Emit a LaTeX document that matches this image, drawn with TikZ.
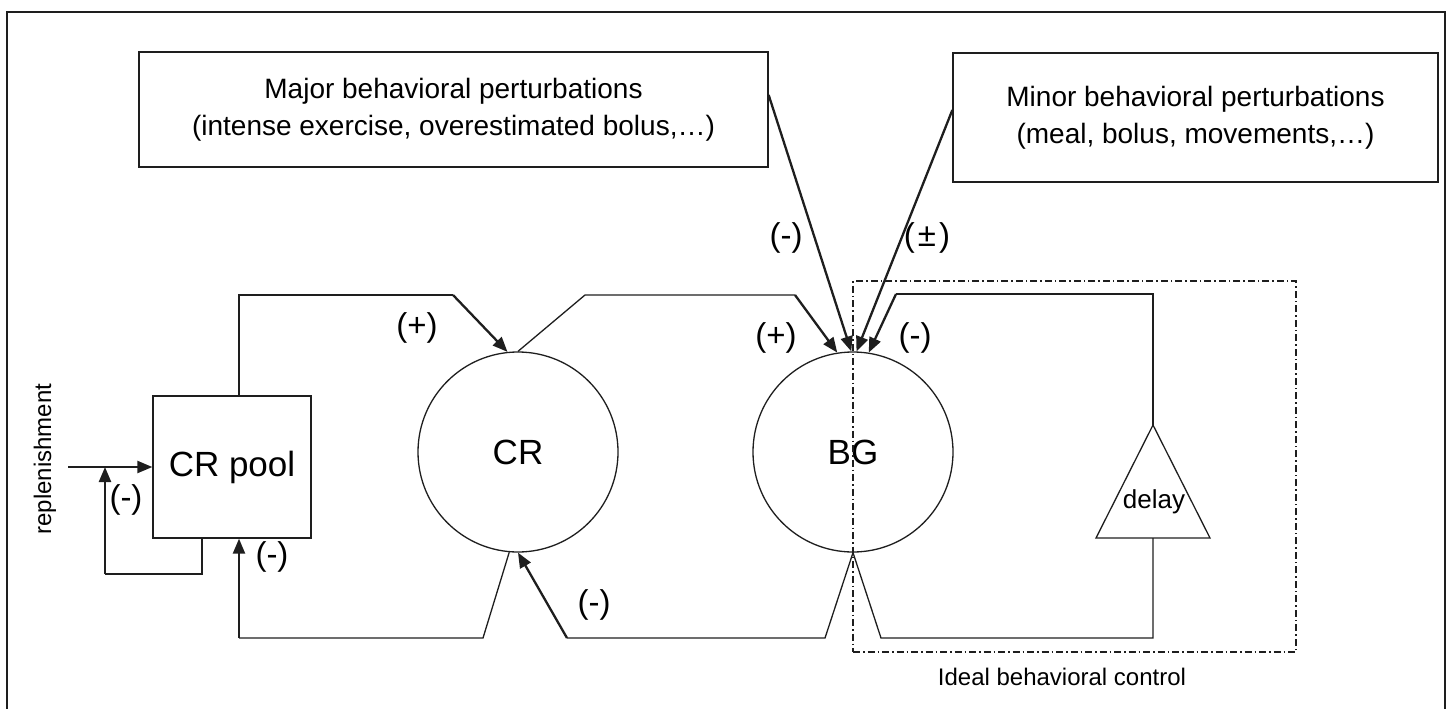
\documentclass[tikz,border=0pt]{standalone}
\usepackage{fontspec}
\setmainfont{Liberation Sans}
\usetikzlibrary{arrows.meta,positioning}
\definecolor{ink}{HTML}{1E1E1E}

\tikzset{
  line/.style={draw=ink, line width=1.3pt},
  arr/.style={draw=ink, line width=2.3pt, -{Triangle[length=15pt,width=12pt]}},
  pbox/.style={draw=ink, line width=1.3pt, align=center, inner sep=0pt, font=\fontsize{28}{37}\selectfont},
  blob/.style={circle, draw=ink, line width=1.3pt, minimum size=200pt, inner sep=0pt, font=\fontsize{35}{40}\selectfont},
  sign/.style={inner sep=0pt, font=\fontsize{33}{36}\selectfont},
  small/.style={inner sep=0pt, font=\fontsize{24}{28}\selectfont},
  ctrlbox/.style={draw=ink, line width=1.2pt, dash pattern=on 7pt off 3pt on 1.5pt off 3pt},
}

\begin{document}
\begin{tikzpicture}[x=1pt,y=-1pt]
  \useasboundingbox (0,0) rectangle (1448,709);
  \draw[line] (7,12) rectangle (1445,712);

  % perturbations
  \node[pbox, minimum width=629pt, minimum height=115pt] (major) at (453.5,109.5)
    {Major behavioral perturbations\\(intense exercise, overestimated bolus,…)};
  \node[pbox, minimum width=485pt, minimum height=129pt] (minor) at (1195.5,117.5)
    {Minor behavioral perturbations\\(meal, bolus, movements,…)};

  % compartments
  \node[pbox, font=\fontsize{35}{40}\selectfont, minimum width=158pt, minimum height=142pt] (pool) at (232,467) {CR pool};
  \node[blob] (cr) at (518,452) {CR};
  \node[blob] (bg) at (853,452) {BG};

  % ideal behavioral control
  \node[ctrlbox, minimum width=443pt, minimum height=371pt] (ideal) at (1074.5,466.5) {};
  \node[small] (idealtxt) at (1062,677) {Ideal behavioral control};
  \coordinate (dtop) at (1153,425);
  \coordinate (dbot) at (1153,538);
  \draw[line] (dtop) -- (1210,538) -- (1096,538) -- cycle;
  \node[inner sep=0pt, font=\fontsize{26}{30}\selectfont] (delay) at (1154,502) {delay};

  % replenishment
  \node[small, rotate=90] (reptxt) at (45,459) {replenishment};
  \coordinate (rep) at (68,467);
  \coordinate (repj) at (105,467);
  \draw[arr] (rep) -- (pool.west);
  \draw[line] ([xshift=-30pt]pool.south) |- (105,574) coordinate (fb1);
  \draw[arr] (fb1) -- (repj);

  % CR pool -> CR -> BG
  \draw[line] ([xshift=7pt]pool.north) |- (453,295) coordinate (k1);
  \draw[arr] (k1) -- (cr.96);
  \draw[line] (cr.north) -- (585,295) -- (795,295) coordinate (k2);
  \draw[arr] (k2) -- (bg.99);

  % feedbacks
  \draw[line] (cr.265) -- (483,638) -| (239,638) coordinate (k3);
  \draw[arr] (k3) -- ([xshift=7pt]pool.south);
  \draw[line] (bg.south) -- (825,638) -- (567,638) coordinate (k4);
  \draw[arr] (k4) -- (cr.south);
  \draw[line] (bg.south) -- (881,638) -| (dbot);
  \draw[line] (dtop) |- (896,294) coordinate (k5);
  \draw[arr] (k5) -- (bg.81);

  % behaviour
  \draw[arr] ([yshift=14.5pt]major.east) -- (bg.91);
  \draw[arr] ([yshift=7.5pt]minor.west) -- (bg.88);

  % signs
  \node[sign] (s1) at (417,328) {(+)};
  \node[sign] (s2) at (776,338) {(+)};
  \node[sign] (s3) at (915,338) {(-)};
  \node[sign] (s4) at (786,238) {(-)};
  \node[sign] (s5) at (927,238) {(\kern3pt±\kern3pt)};
  \node[sign] (s6) at (594,605) {(-)};
  \node[sign] (s7) at (126,500) {(-)};
  \node[sign] (s8) at (272,557) {(-)};
\end{tikzpicture}
\end{document}
